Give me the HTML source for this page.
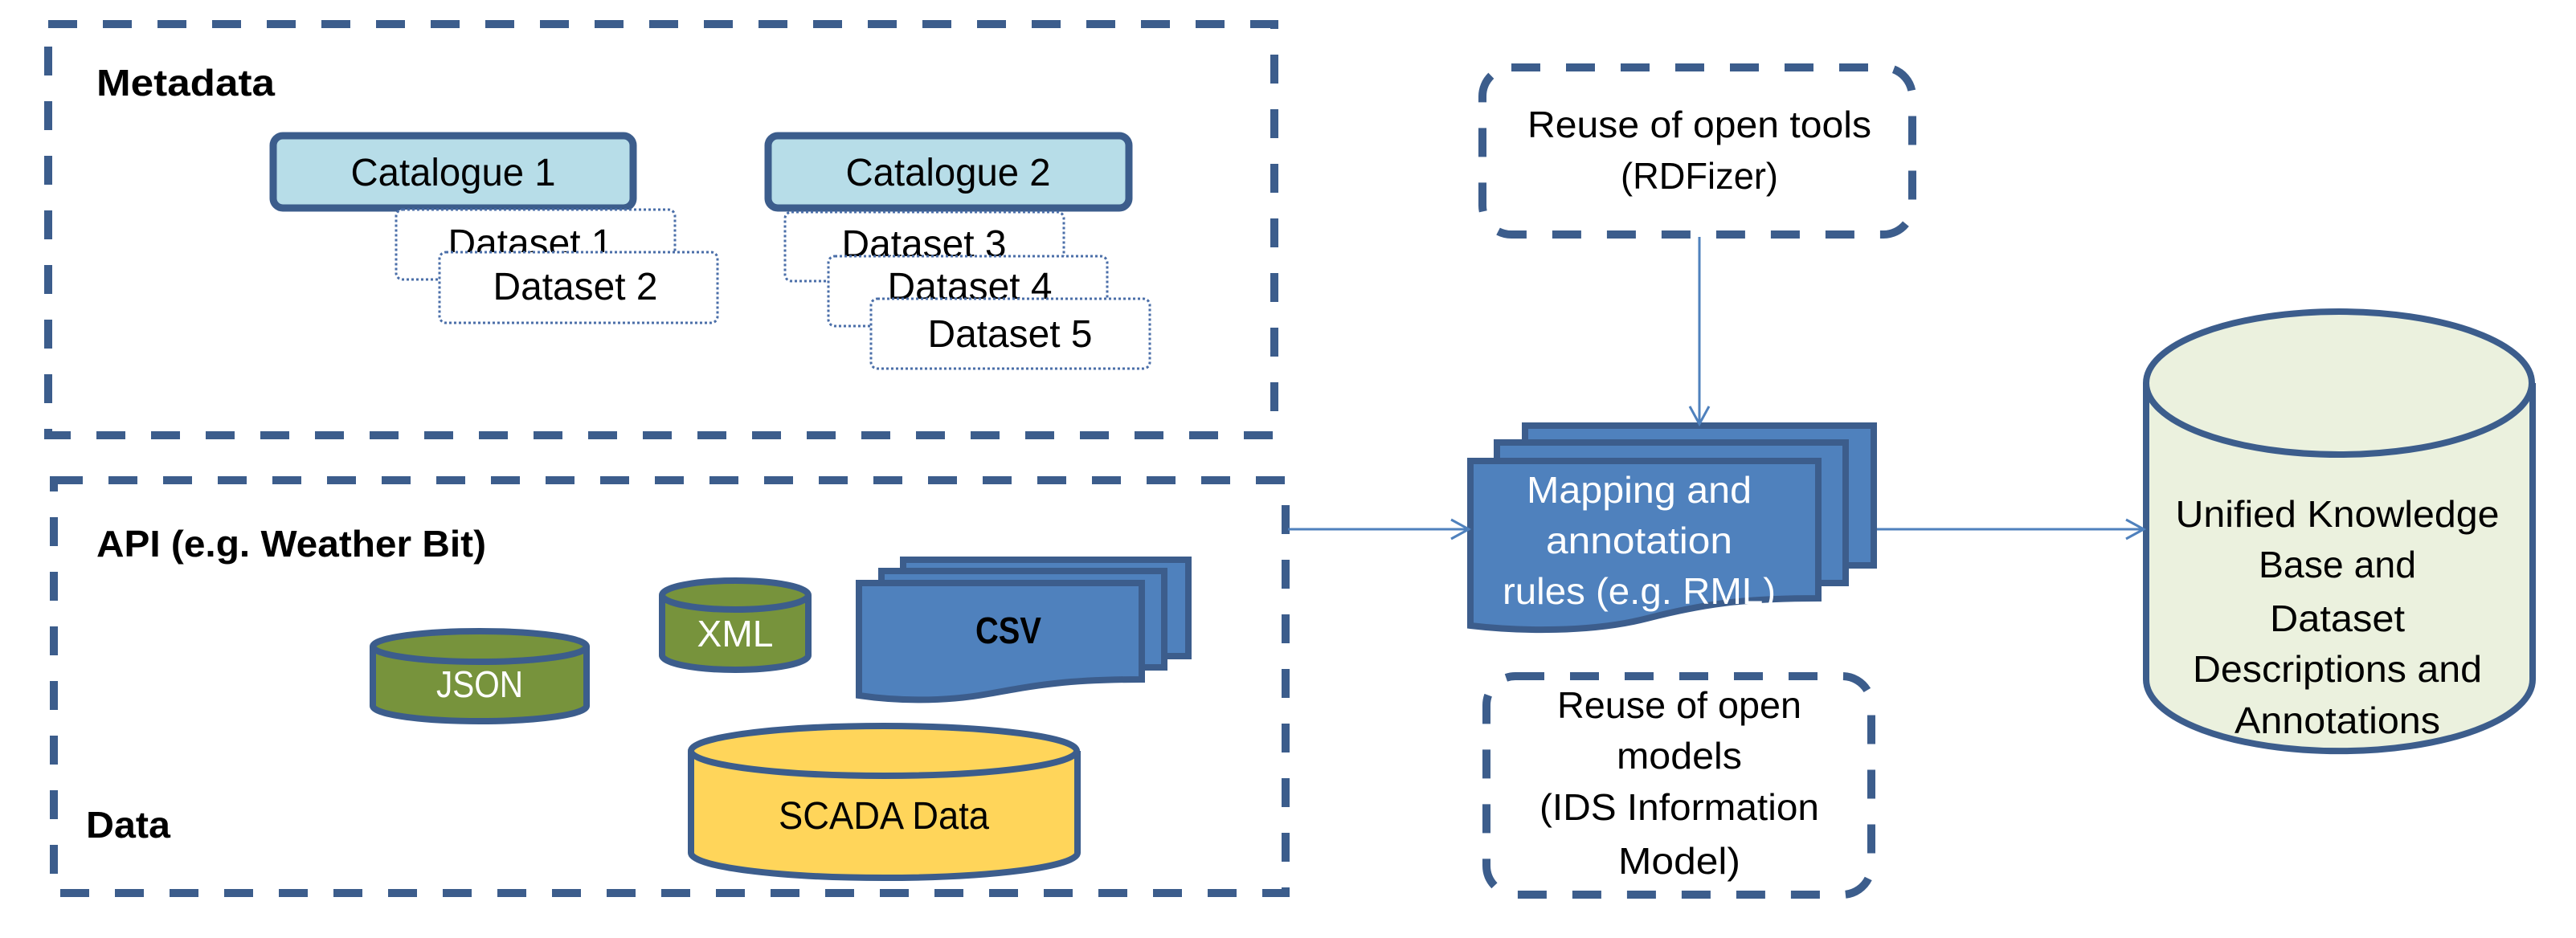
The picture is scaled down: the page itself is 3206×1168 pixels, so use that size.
<!DOCTYPE html>
<html><head><meta charset="utf-8"><style>
html,body{margin:0;padding:0;background:#fff;}
svg{display:block;}
text{font-family:"Liberation Sans Narrow","Liberation Sans",sans-serif;}
</style></head><body>
<svg width="3206" height="1168" viewBox="0 0 3206 1168" xmlns="http://www.w3.org/2000/svg">
<defs>
<marker id="ar" markerWidth="30" markerHeight="30" refX="26" refY="15" orient="auto" markerUnits="userSpaceOnUse">
<path d="M4,3 L26,15 L4,27" fill="none" stroke="#4f81bd" stroke-width="3"/>
</marker>
</defs>
<g fill="none" stroke="#3c5d8c" stroke-width="10" stroke-dasharray="36 32">
<rect x="60" y="30" width="1526" height="512"/>
<rect x="67" y="598" width="1533" height="514"/>
<rect x="1845" y="84" width="535" height="208" rx="36"/>
<rect x="1850" y="842" width="479" height="272" rx="36"/>
</g>
<g font-weight="bold" font-size="46" fill="#000">
<text x="120" y="119" textLength="222" lengthAdjust="spacingAndGlyphs">Metadata</text>
<text x="120" y="693" textLength="485" lengthAdjust="spacingAndGlyphs">API (e.g. Weather Bit)</text>
<text x="107" y="1043" textLength="105" lengthAdjust="spacingAndGlyphs">Data</text>
</g>
<g stroke="#3c5d8c" stroke-width="9" fill="#b7dde8">
<rect x="340" y="169" width="448" height="90" rx="12"/>
<rect x="956" y="169" width="449" height="90" rx="12"/>
</g>
<g font-size="48" fill="#000" text-anchor="middle">
<text x="564" y="231" textLength="255" lengthAdjust="spacingAndGlyphs">Catalogue 1</text>
<text x="1180" y="231" textLength="255" lengthAdjust="spacingAndGlyphs">Catalogue 2</text>
</g>
<g font-size="48" fill="#000" text-anchor="middle">
<rect x="493" y="261" width="347" height="87" rx="8" stroke="#4a6ea8" stroke-width="3" stroke-dasharray="3 3" fill="#fff"/>
<text x="660" y="319" textLength="205" lengthAdjust="spacingAndGlyphs">Dataset 1</text>
<rect x="547" y="314" width="346" height="88" rx="8" stroke="#4a6ea8" stroke-width="3" stroke-dasharray="3 3" fill="#fff"/>
<text x="716" y="373" textLength="205" lengthAdjust="spacingAndGlyphs">Dataset 2</text>
<rect x="977" y="264" width="347" height="86" rx="8" stroke="#4a6ea8" stroke-width="3" stroke-dasharray="3 3" fill="#fff"/>
<text x="1150" y="320" textLength="205" lengthAdjust="spacingAndGlyphs">Dataset 3</text>
<rect x="1031" y="319" width="347" height="87" rx="8" stroke="#4a6ea8" stroke-width="3" stroke-dasharray="3 3" fill="#fff"/>
<text x="1207" y="373" textLength="205" lengthAdjust="spacingAndGlyphs">Dataset 4</text>
<rect x="1084" y="372" width="347" height="87" rx="8" stroke="#4a6ea8" stroke-width="3" stroke-dasharray="3 3" fill="#fff"/>
<text x="1257" y="432" textLength="205" lengthAdjust="spacingAndGlyphs">Dataset 5</text>
</g>
<g stroke="#3c5d8c" stroke-width="8">
<path d="M464,805 V879 A133,19 0 0 0 730,879 V805" fill="#77933c"/>
<ellipse cx="597" cy="805" rx="133" ry="19" fill="#77933c"/>
<path d="M824,741 V816 A91,18 0 0 0 1006,816 V741" fill="#77933c"/>
<ellipse cx="915" cy="741" rx="91" ry="18" fill="#77933c"/>
<path d="M860,935 V1062 A240,31 0 0 0 1341,1062 V935" fill="#ffd55a"/>
<ellipse cx="1100" cy="935" rx="240" ry="31" fill="#ffd55a"/>
<path d="M2671,477 V846 A240,89 0 0 0 3152,846 V477" fill="#ebf1de"/>
<ellipse cx="2911" cy="477" rx="240" ry="89" fill="#ebf1de"/>
</g>
<g font-size="46" fill="#fff" text-anchor="middle">
<text x="597" y="868" textLength="108" lengthAdjust="spacingAndGlyphs">JSON</text>
<text x="915" y="805" textLength="95" lengthAdjust="spacingAndGlyphs">XML</text>
</g>
<text x="1100" y="1032" font-size="48" text-anchor="middle" fill="#000" textLength="262" lengthAdjust="spacingAndGlyphs">SCADA Data</text>
<g stroke="#3c5d8c" stroke-width="8" fill="#4f81bd">
<path d="M1124,697 H1479 V817 H1124 Z"/>
<path d="M1097,711 H1449 V831 H1097 Z"/>
<path d="M1069,726 H1421 V846 C1330,846 1290,853 1230,864 C1170,875 1110,872 1069,866 Z"/>
</g>
<text x="1255" y="801" font-size="46" font-weight="bold" text-anchor="middle" fill="#000" textLength="82" lengthAdjust="spacingAndGlyphs">CSV</text>
<g stroke="#3c5d8c" stroke-width="8" fill="#4f81bd">
<path d="M1898,530 H2332 V704 H1898 Z"/>
<path d="M1863,551 H2297 V726 H1863 Z"/>
<path d="M1830,574 H2263 V745 C2170,745 2120,752 2050,770 C1980,788 1890,786 1830,779 Z"/>
</g>
<g font-size="46" fill="#fff" text-anchor="middle">
<text x="2040" y="626" textLength="280" lengthAdjust="spacingAndGlyphs">Mapping and</text>
<text x="2040" y="689" textLength="232" lengthAdjust="spacingAndGlyphs">annotation</text>
<text x="2040" y="752" textLength="340" lengthAdjust="spacingAndGlyphs">rules (e.g. RML)</text>
</g>
<g stroke="#4f81bd" stroke-width="3" fill="none">
<line x1="1603" y1="659" x2="1828" y2="659" marker-end="url(#ar)"/>
<line x1="2336" y1="659" x2="2668" y2="659" marker-end="url(#ar)"/>
<line x1="2115" y1="295" x2="2115" y2="528" marker-end="url(#ar)"/>
</g>
<g font-size="46" fill="#000" text-anchor="middle">
<text x="2115" y="171" textLength="428" lengthAdjust="spacingAndGlyphs">Reuse of open tools</text>
<text x="2115" y="235" textLength="196" lengthAdjust="spacingAndGlyphs">(RDFizer)</text>
<text x="2090" y="894" textLength="304" lengthAdjust="spacingAndGlyphs">Reuse of open</text>
<text x="2090" y="957" textLength="156" lengthAdjust="spacingAndGlyphs">models</text>
<text x="2090" y="1021" textLength="348" lengthAdjust="spacingAndGlyphs">(IDS Information</text>
<text x="2090" y="1088" textLength="152" lengthAdjust="spacingAndGlyphs">Model)</text>
<text x="2909" y="656" textLength="403" lengthAdjust="spacingAndGlyphs">Unified Knowledge</text>
<text x="2909" y="719" textLength="196" lengthAdjust="spacingAndGlyphs">Base and</text>
<text x="2909" y="786" textLength="168" lengthAdjust="spacingAndGlyphs">Dataset</text>
<text x="2909" y="849" textLength="360" lengthAdjust="spacingAndGlyphs">Descriptions and</text>
<text x="2909" y="913" textLength="256" lengthAdjust="spacingAndGlyphs">Annotations</text>
</g>
</svg>
</body></html>
